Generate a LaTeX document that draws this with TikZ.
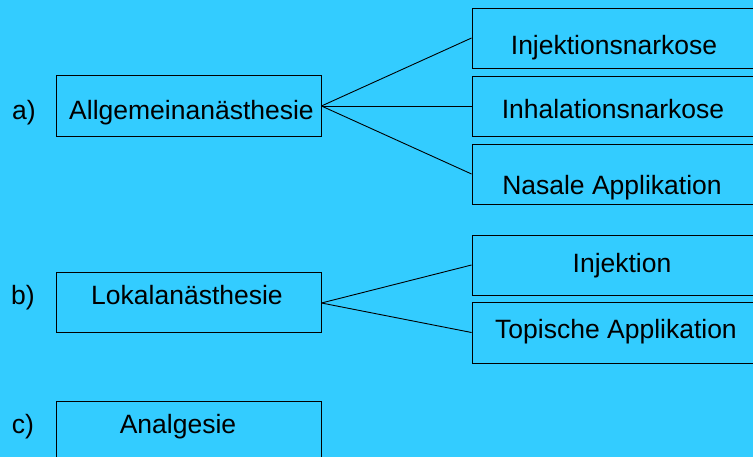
\documentclass[tikz,border=0pt]{standalone}
\usepackage{fontspec}
\setmainfont{Liberation Sans}
\definecolor{bg}{RGB}{51,204,255}
\begin{document}
\begin{tikzpicture}[x=1pt,y=-1pt,
  box/.style={draw=black, line width=0.9pt, rectangle, inner sep=0pt},
  txt/.style={anchor=base, inner sep=0pt, font=\fontsize{26.5}{30}\selectfont},
  conn/.style={draw=black, line width=0.9pt}]
\useasboundingbox (0,0) rectangle (753,457);
\clip (0,0) rectangle (753,457);
\fill[bg] (0,0) rectangle (753,457);
% left boxes
\node[box, minimum width=265pt, minimum height=61pt] (A) at (188.5,106) {};
\node[box, minimum width=265pt, minimum height=60pt] (B) at (188.5,302) {};
\node[box, minimum width=265pt, minimum height=60pt] (C) at (188.5,431) {};
% right boxes
\node[box, minimum width=284pt, minimum height=60pt] (R1) at (614,38) {};
\node[box, minimum width=284pt, minimum height=60pt] (R2) at (614,106) {};
\node[box, minimum width=284pt, minimum height=60pt] (R3) at (614,174) {};
\node[box, minimum width=284pt, minimum height=60pt] (S1) at (614,265) {};
\node[box, minimum width=284pt, minimum height=61pt] (S2) at (614,332.5) {};
% texts
\node[txt] (la) at (24,120) {a)};
\node[txt] (lb) at (23,305) {b)};
\node[txt] (lc) at (23,433) {c)};
\node[txt] (tA) at (191.5,120) {Allgemeinanästhesie};
\node[txt] (tB) at (187,305) {Lokalanästhesie};
\node[txt] (tC) at (178,433) {Analgesie};
\node[txt] (t1) at (614,55) {Injektionsnarkose};
\node[txt] (t2) at (613,119) {Inhalationsnarkose};
\node[txt] (t3) at (612,195) {Nasale Applikation};
\node[txt] (t4) at (622,273) {Injektion};
\node[txt] (t5) at (616,338) {Topische Applikation};
% connectors
\draw[conn] (A.east) -- (R1.west);
\draw[conn] (A.east) -- (R2.west);
\draw[conn] (A.east) -- (R3.west);
\draw[conn] ([yshift=-1pt]B.east) -- (S1.west);
\draw[conn] ([yshift=-1pt]B.east) -- (S2.west);
\end{tikzpicture}
\end{document}
